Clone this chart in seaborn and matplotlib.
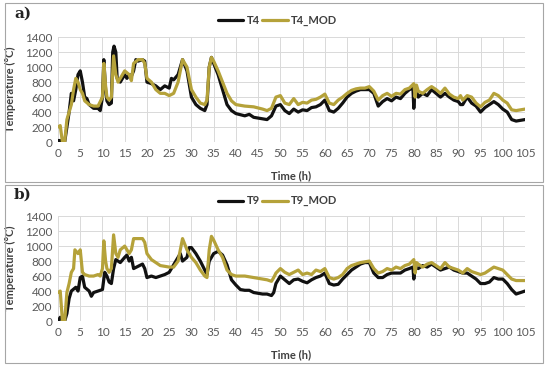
import pandas as pd
import matplotlib.pyplot as plt
import seaborn as sns
from matplotlib.patches import Rectangle

# Panel a) series
t4_time = [0, 0.5, 1, 1.5, 2, 2.5, 3, 3.5, 4, 4.5, 5, 5.5, 6, 6.5, 7, 8, 9, 9.5, 10, 10.3, 10.7,
           11, 11.5, 12, 12.3, 12.6, 13, 13.3, 14, 15, 15.5, 16, 16.5, 17, 17.5, 18, 19, 19.5,
           20, 21, 22, 23, 24, 25, 25.5, 26, 27, 28, 29, 30, 31, 32, 33, 33.5, 34, 34.5, 35,
           36, 37, 38, 39, 40, 42, 43, 44, 45, 46, 47, 48, 49, 50, 51, 52, 53, 54, 55, 56, 57,
           58, 59, 60, 61, 62, 63, 64, 65, 66, 67, 68, 69, 70, 71, 72, 73, 74, 75, 76, 77, 78,
           79, 79.8, 80, 80.3, 81, 82, 83, 84, 85, 86, 87, 88, 89, 90, 90.5, 91, 92, 93, 94, 95,
           96, 97, 98, 99, 100, 101, 102, 103, 104, 105]
t4_vals = [20, 20, 0, 0, 200, 400, 650, 550, 700, 900, 950, 800, 600, 580, 500, 450, 450, 420, 600, 1100, 700,
           550, 500, 520, 1200, 1280, 1200, 850, 800, 900, 850, 900, 880, 950, 1100, 1080, 1100, 1080,
           800, 780, 750, 700, 750, 720, 850, 830, 900, 1100, 950, 600, 500, 450, 420, 500, 1000, 1130, 1050,
           900, 700, 500, 420, 380, 350, 370, 330, 320, 310, 300, 350, 480, 500, 420, 380, 440, 400, 430, 420, 460,
           470, 500, 560, 420, 400, 450, 520, 600, 650, 680, 700, 700, 700, 650, 480, 540, 580, 550, 600, 580, 650,
           700, 720, 450, 740, 600, 650, 620, 700, 650, 600, 650, 600, 560, 540, 500, 500, 600, 520, 480, 400,
           460, 500, 540, 500, 440, 400, 300, 280, 290, 300]

t4mod_time = [0, 0.5, 1, 1.5, 2, 2.5, 3, 3.5, 4, 4.5, 5, 5.5, 6, 7, 8, 9, 10, 10.3, 10.7, 11, 11.5, 12,
              12.5, 13, 13.5, 14, 15, 16, 16.5, 17, 18, 19, 19.5, 20, 21, 22, 23, 24, 25, 26, 27, 28,
              29, 30, 31, 32, 33, 33.5, 34, 34.5, 35, 36, 37, 38, 39, 40, 42, 44, 46, 47, 48, 49, 50,
              51, 52, 53, 54, 55, 56, 57, 58, 59, 60, 61, 62, 63, 64, 65, 66, 67, 68, 69, 70, 71, 72,
              73, 74, 75, 76, 77, 78, 79, 80, 80.3, 80.6, 81, 82, 83, 84, 85, 86, 87, 88, 89, 90, 90.5,
              91, 92, 93, 94, 95, 96, 97, 98, 99, 100, 101, 102, 103, 104, 105]
t4mod_vals = [200, 220, 0, 0, 300, 400, 500, 700, 850, 800, 700, 650, 550, 500, 480, 480, 600, 1050, 750, 600, 560, 600,
              1150, 900, 800, 850, 950, 900, 820, 1050, 1100, 1100, 1050, 850, 800, 700, 650, 650, 620, 650, 800, 1100,
              1000, 700, 600, 520, 500, 560, 1000, 1130, 1080, 950, 800, 650, 550, 500, 480, 470, 440, 420, 450, 600, 620,
              520, 500, 580, 500, 530, 520, 560, 570, 600, 640, 520, 500, 560, 600, 650, 690, 710, 720, 720, 740, 680, 560,
              620, 650, 610, 650, 640, 700, 720, 780, 600, 760, 680, 650, 700, 740, 700, 650, 720, 640, 600, 580, 620,
              560, 620, 600, 520, 470, 530, 560, 650, 620, 560, 520, 430, 420, 430, 440]

# Panel b) series
t9_time = [0, 0.5, 1, 1.5, 2, 2.5, 3, 4, 4.5, 5, 5.5, 6, 7, 7.5, 8, 9, 10, 10.5, 11, 11.5, 12, 12.5, 13,
           14, 15, 15.5, 16, 16.5, 17, 18, 19, 19.5, 20, 21, 22, 23, 24, 25, 26, 27, 27.5, 28, 29, 29.5,
           30, 31, 32, 33, 33.5, 34, 35, 36, 37, 38, 39, 40, 41, 42, 43, 44, 45, 46, 47, 48, 48.5, 49,
           50, 51, 52, 53, 54, 55, 56, 57, 58, 59, 60, 61, 62, 63, 64, 65, 66, 67, 68, 69, 70, 71, 72,
           73, 74, 75, 76, 77, 78, 79, 79.8, 80, 80.3, 81, 82, 83, 84, 85, 86, 87, 88, 89, 90, 91, 92,
           93, 94, 95, 96, 97, 98, 99, 100, 101, 102, 103, 104, 105]
t9_vals = [0, 50, 0, 0, 100, 300, 400, 450, 400, 580, 600, 450, 400, 330, 380, 400, 420, 650, 600, 520, 500, 700, 820,
           780, 850, 880, 800, 850, 700, 730, 760, 700, 580, 600, 580, 600, 620, 650, 750, 850, 900, 800, 850, 980,
           980, 900, 800, 680, 620, 800, 900, 930, 880, 750, 550, 480, 420, 410, 410, 380, 370, 360, 360, 340, 380, 500,
           600, 550, 500, 550, 560, 530, 510, 550, 580, 600, 640, 500, 480, 490, 560, 620, 680, 720, 760, 780, 780, 640, 580,
           580, 620, 640, 640, 640, 680, 700, 720, 560, 720, 700, 740, 720, 760, 720, 680, 700, 720, 680, 660, 640, 640,
           600, 560, 500, 500, 520, 580, 560, 560, 500, 420, 360, 380, 400]

t9mod_time = [0, 0.5, 1, 1.5, 2, 2.5, 3, 3.5, 3.8, 4.5, 5, 5.5, 6, 7, 8, 9, 9.5, 10, 10.3, 10.7, 11, 11.5,
              12, 12.5, 13, 13.5, 14, 15, 15.5, 16, 16.5, 17, 18, 19, 19.5, 20, 21, 22, 23, 24, 25, 26,
              27, 28, 29, 30, 31, 32, 33, 33.5, 34, 34.5, 35, 36, 37, 38, 39, 40, 42, 44, 46, 47, 48,
              48.5, 49, 50, 51, 52, 53, 54, 55, 56, 57, 58, 59, 60, 61, 62, 63, 64, 65, 66, 67, 68, 69,
              70, 71, 72, 73, 74, 75, 76, 77, 78, 79, 80, 80.3, 80.6, 81, 82, 83, 84, 85, 86, 87, 88,
              89, 90, 91, 92, 93, 94, 95, 96, 97, 98, 99, 100, 101, 102, 103, 104, 105]
t9mod_vals = [380, 400, 0, 0, 380, 500, 650, 700, 950, 900, 950, 650, 620, 600, 600, 620, 600, 700, 1070, 800, 700, 650,
              700, 1150, 900, 850, 950, 1000, 950, 900, 950, 1100, 1100, 1100, 1050, 900, 820, 780, 740, 730, 720, 720,
              800, 1100, 950, 850, 780, 680, 600, 580, 950, 1130, 1080, 950, 850, 680, 620, 600, 600, 580, 560, 550, 530,
              580, 640, 700, 650, 620, 650, 680, 620, 640, 620, 680, 660, 700, 580, 560, 580, 620, 700, 740, 760, 780, 790,
              800, 700, 640, 660, 700, 680, 720, 700, 740, 760, 820, 640, 780, 760, 720, 760, 780, 740, 700, 780, 720,
              700, 680, 640, 700, 660, 640, 620, 640, 680, 720, 700, 680, 620, 560, 540, 540, 540]

x_ticks = list(range(0, 106, 5))
y_ticks = list(range(0, 1401, 200))

black = "#111111"
olive = "#b5a23a"
grey_txt = "#595959"

sns.set_theme(style="white")
plt.rcParams['font.family'] = ['Lato', 'DejaVu Sans']

fig = plt.figure(figsize=(5.5, 3.68), dpi=100)

# chart borders
fig.patches.append(Rectangle((5 / 550, 1 - 182 / 368), 538 / 550, 179 / 368, transform=fig.transFigure,
                             fill=False, edgecolor="#a6a6a6", linewidth=0.8))
fig.patches.append(Rectangle((5 / 550, 1 - 363 / 368), 538 / 550, 178 / 368, transform=fig.transFigure,
                             fill=False, edgecolor="#a6a6a6", linewidth=0.8))

panels = [
    ("a)", "T4", t4_time, t4_vals, "T4_MOD", t4mod_time, t4mod_vals, 0.614, 14, 20),
    ("b)", "T9", t9_time, t9_vals, "T9_MOD", t9mod_time, t9mod_vals, 0.1277, 195, 201),
]

for tag, n1, tm1, v1, n2, tm2, v2, bottom, tag_y, leg_y in panels:
    ax = fig.add_axes([58 / 550, bottom, 467 / 550, 0.285])
    df = pd.concat([
        pd.DataFrame({"Time": tm1, "Temp": v1, "Series": n1}),
        pd.DataFrame({"Time": tm2, "Temp": v2, "Series": n2}),
    ])
    sns.lineplot(data=df, x="Time", y="Temp", hue="Series", palette=[black, olive],
                 linewidth=2.3, ax=ax, legend=False, sort=False)
    ax.set_xlim(0, 105)
    ax.set_ylim(0, 1400)
    ax.set_xticks(x_ticks)
    ax.set_yticks(y_ticks)
    ax.grid(True, color="#d9d9d9", linewidth=0.7)
    ax.set_axisbelow(True)
    for s in ax.spines.values():
        s.set_visible(False)
    ax.tick_params(axis="both", length=0, labelsize=8.5, labelcolor=grey_txt, pad=4)
    ax.set_xlabel("Time (h)", fontsize=8, fontweight="bold", color="#404040")
    ax.xaxis.set_label_coords(0.50, -0.27)
    ax.set_ylabel("Temperature (°C)", fontsize=8, fontweight="bold", color="#404040")
    ax.yaxis.set_label_coords(-0.09, 0.5)

    # legend drawn as figure elements
    yl = 1 - leg_y / 368
    fig.lines.append(plt.Line2D([218 / 550, 243 / 550], [yl, yl], transform=fig.transFigure,
                                color=black, linewidth=2.3))
    fig.text(247 / 550, yl, n1, fontsize=8, fontweight="bold", color="#404040", va="center")
    fig.lines.append(plt.Line2D([262 / 550, 288 / 550], [yl, yl], transform=fig.transFigure,
                                color=olive, linewidth=2.3))
    fig.text(291 / 550, yl, n2, fontsize=8, fontweight="bold", color="#404040", va="center")

    fig.text(14 / 550, 1 - tag_y / 368, tag, fontsize=11, fontweight="bold", family="DejaVu Serif",
             color="#222222", va="center")

fig.savefig("out.png", dpi=100)
